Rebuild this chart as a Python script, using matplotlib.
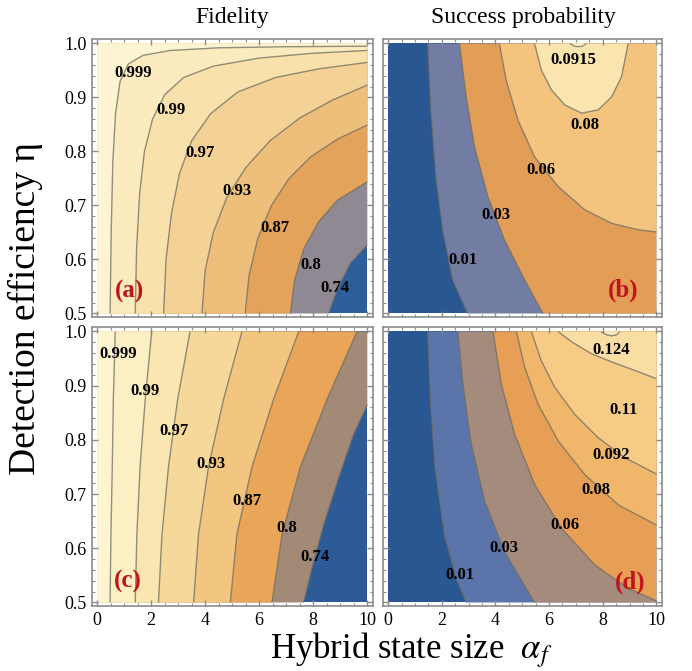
import math
import matplotlib
matplotlib.use('Agg')
import matplotlib.pyplot as plt
from matplotlib.patches import Polygon, Rectangle
from matplotlib.ticker import MultipleLocator

# ---------------- data ----------------
fid_levels = [0.74, 0.8, 0.87, 0.93, 0.97, 0.99, 0.999]
fid_labels = ['0.74', '0.8', '0.87', '0.93', '0.97', '0.99', '0.999']

# panel (a): contour lines of fidelity (alpha, eta)
a_alpha = [
    [8.57, 8.88, 9.37, 10.0],
    [7.15, 7.3, 7.65, 8.2, 8.9, 10.0],
    [5.48, 5.62, 5.95, 6.45, 7.1, 7.9, 8.9, 10.0],
    [3.88, 4.0, 4.3, 4.8, 5.5, 6.4, 7.5, 8.7, 10.0],
    [2.46, 2.55, 2.75, 3.05, 3.5, 4.2, 5.2, 6.6, 8.2, 10.0],
    [1.41, 1.46, 1.57, 1.75, 2.05, 2.5, 3.2, 4.3, 6.0, 8.0, 10.0],
    [0.48, 0.52, 0.58, 0.68, 0.85, 1.15, 1.7, 2.7, 4.5, 7.0, 10.0],
]
a_eta = [
    [0.5, 0.544, 0.593, 0.627],
    [0.5, 0.56, 0.62, 0.67, 0.71, 0.744],
    [0.5, 0.57, 0.64, 0.70, 0.75, 0.79, 0.823, 0.849],
    [0.5, 0.58, 0.65, 0.715, 0.77, 0.82, 0.862, 0.895, 0.923],
    [0.5, 0.6, 0.685, 0.76, 0.82, 0.87, 0.91, 0.937, 0.953, 0.965],
    [0.5, 0.62, 0.72, 0.8, 0.86, 0.905, 0.937, 0.958, 0.973, 0.982, 0.987],
    [0.5, 0.65, 0.78, 0.87, 0.93, 0.962, 0.978, 0.987, 0.992, 0.994, 0.995],
]
a_colors = ['#2D5E9C', '#8E8993', '#E4A35B', '#EEBE7B', '#F4D195',
            '#F8E1AB', '#FBEBBF', '#FDF4D2']
a_label_alpha = [8.81, 7.89, 6.57, 5.17, 3.79, 2.74, 1.32]
a_label_eta = [0.548, 0.590, 0.658, 0.726, 0.798, 0.877, 0.945]

# panel (c): contour lines of fidelity
c_alpha = [
    [7.64, 7.95, 8.38, 8.94, 9.49, 10.0],
    [6.47, 6.84, 7.52, 8.51, 9.62],
    [4.93, 5.17, 5.73, 6.53, 7.46],
    [3.57, 3.75, 4.12, 4.68, 5.36],
    [2.27, 2.40, 2.64, 2.98, 3.44],
    [1.41, 1.47, 1.59, 1.78, 2.02],
    [0.48, 0.51, 0.56, 0.60, 0.67],
]
c_eta = [
    [0.5, 0.563, 0.643, 0.73, 0.81, 0.865],
    [0.5, 0.625, 0.75, 0.875, 1.0],
    [0.5, 0.625, 0.75, 0.875, 1.0],
    [0.5, 0.625, 0.75, 0.875, 1.0],
    [0.5, 0.625, 0.75, 0.875, 1.0],
    [0.5, 0.625, 0.75, 0.875, 1.0],
    [0.5, 0.625, 0.75, 0.875, 1.0],
]
c_colors = ['#2C5B97', '#A38A76', '#E9A558', '#F2C581', '#F6D89A',
            '#FAE6B0', '#FCEFC4', '#FDF4D0']
c_label_alpha = [8.07, 7.02, 5.54, 4.21, 2.85, 1.78, 0.79]
c_label_eta = [0.583, 0.637, 0.687, 0.755, 0.817, 0.891, 0.958]

# panel (b): success probability
b_levels = [0.01, 0.03, 0.06, 0.08, 0.0915]
b_labels = ['0.01', '0.03', '0.06', '0.08', '0.0915']
b_alpha = [
    [1.48, 1.6, 1.79, 2.04, 2.41, 2.97],
    [2.66, 2.91, 3.22, 3.72, 4.34, 5.09, 5.77],
    [4.15, 4.40, 4.84, 5.46, 6.34, 7.33, 8.33, 9.33, 10.0],
    [5.46, 5.71, 6.09, 6.59, 7.21, 7.83, 8.33, 8.70, 8.95],
    [6.77, 6.95, 7.1, 7.25, 7.40],
]
b_eta = [
    [1.0, 0.873, 0.75, 0.654, 0.562, 0.5],
    [1.0, 0.901, 0.809, 0.716, 0.636, 0.562, 0.5],
    [1.0, 0.932, 0.858, 0.79, 0.735, 0.692, 0.667, 0.655, 0.651],
    [1.0, 0.951, 0.914, 0.886, 0.871, 0.877, 0.901, 0.938, 1.0],
    [1.0, 0.995, 0.994, 0.995, 1.0],
]
b_colors = ['#285791', '#737DA4', '#E29E57', '#F4C47F', '#FBE5AF', '#FDF0CC']
b_label_alpha = [2.79, 4.03, 5.68, 7.33, 6.90]
b_label_eta = [0.599, 0.682, 0.766, 0.849, 0.969]

# panel (d): success probability
d_levels = [0.01, 0.03, 0.06, 0.08, 0.092, 0.11, 0.124]
d_labels = ['0.01', '0.03', '0.06', '0.08', '0.092', '0.11', '0.124']
d_alpha = [
    [1.48, 1.58, 1.75, 2.10, 2.54, 2.91],
    [2.60, 2.79, 3.10, 3.60, 4.34, 5.46],
    [3.91, 4.22, 4.72, 5.46, 6.46, 7.71, 8.95, 10.0],
    [4.78, 5.09, 5.59, 6.34, 7.33, 8.58, 10.0],
    [5.34, 5.71, 6.21, 6.96, 7.83, 8.83, 10.0],
    [6.34, 6.84, 7.58, 8.33, 9.2, 10.0],
    [7.93, 8.14, 8.33, 8.52, 8.64],
]
d_eta = [
    [1.0, 0.872, 0.749, 0.625, 0.545, 0.5],
    [1.0, 0.903, 0.792, 0.687, 0.594, 0.5],
    [1.0, 0.903, 0.81, 0.718, 0.637, 0.569, 0.526, 0.503],
    [1.0, 0.934, 0.866, 0.798, 0.736, 0.68, 0.643],
    [1.0, 0.946, 0.897, 0.847, 0.804, 0.767, 0.737],
    [1.0, 0.981, 0.959, 0.944, 0.928, 0.913],
    [1.0, 0.994, 0.992, 0.994, 1.0],
]
d_colors = ['#285791', '#5B74A9', '#A48B7B', '#E79F56', '#F0B76B',
            '#F6CB86', '#FADDA3', '#FCE9BD']
d_label_alpha = [2.66, 4.32, 6.59, 7.73, 8.33, 8.77, 8.33]
d_label_eta = [0.551, 0.600, 0.643, 0.708, 0.773, 0.855, 0.965]

panel_tags = ['(a)', '(b)', '(c)', '(d)']
xticks = [0, 2, 4, 6, 8, 10]
yticks = [0.5, 0.6, 0.7, 0.8, 0.9, 1.0]

# ---------------- helpers ----------------
X0, X1, Y0, Y1 = 0.0, 10.0, 0.5, 1.0
CORNERS = {1: (X1, Y0), 2: (X1, Y1), 3: (X0, Y1), 0: (X0, Y0)}


def perim(x, y, tol=1e-6):
    if abs(y - Y0) < tol and x < X1 - tol:
        return (x - X0) / (X1 - X0)
    if abs(x - X1) < tol and y < Y1 - tol:
        return 1 + (y - Y0) / (Y1 - Y0)
    if abs(y - Y1) < tol and x > X0 + tol:
        return 2 + (X1 - x) / (X1 - X0)
    return 3 + (Y1 - y) / (Y1 - Y0)


def high_side(xs, ys):
    pts = list(zip(xs, ys))
    s_end = perim(xs[-1], ys[-1])
    s_start = perim(xs[0], ys[0])
    if s_start <= s_end:
        s_start += 4
    k = math.floor(s_end) + 1
    while k < s_start:
        pts.append(CORNERS[k % 4])
        k += 1
    return pts


serif = ['Liberation Serif', 'DejaVu Serif']
plt.rcParams['font.family'] = serif
plt.rcParams['mathtext.fontset'] = 'stix'

fig = plt.figure(figsize=(6.92, 6.71), dpi=100)

W = 692.0
H = 671.0
frames = [(92, 39, 373, 317), (383, 39, 662, 317),
          (92, 327, 373, 606), (383, 327, 662, 606)]

panels = [
    (a_alpha, a_eta, a_colors, fid_labels, a_label_alpha, a_label_eta),
    (b_alpha, b_eta, b_colors, b_labels, b_label_alpha, b_label_eta),
    (c_alpha, c_eta, c_colors, fid_labels, c_label_alpha, c_label_eta),
    (d_alpha, d_eta, d_colors, d_labels, d_label_alpha, d_label_eta),
]
tag_pos = [(1.2, 0.54), (8.77, 0.543), (1.12, 0.538), (9.01, 0.538)]

axes = []
for i, (l, t, r, b) in enumerate(frames):
    ax = fig.add_axes([l / W, 1 - b / H, (r - l) / W, (b - t) / H])
    axes.append(ax)
    curves_a, curves_e, cols, labs, lx, ly = panels[i]
    ax.add_patch(Rectangle((X0, Y0), X1 - X0, Y1 - Y0, fc=cols[0], ec='none', zorder=1))
    for j, (xs, ys) in enumerate(zip(curves_a, curves_e)):
        ax.add_patch(Polygon(high_side(xs, ys), closed=True, fc=cols[j + 1],
                             ec='none', zorder=1 + j * 0.01))
    for xs, ys in zip(curves_a, curves_e):
        ax.plot(xs, ys, color='#6f6e62', lw=1.0, alpha=0.75, zorder=3,
                solid_capstyle='butt', solid_joinstyle='round')
    for s, x, y in zip(labs, lx, ly):
        ax.text(x, y, s, ha='center', va='center', fontsize=12,
                fontweight='bold', color='black', zorder=5)
    tx, ty = tag_pos[i]
    ax.text(tx, ty, panel_tags[i], ha='center', va='center', fontsize=18,
            fontweight='bold', color='#C0141C', zorder=5)

    ax.set_xlim(-0.19, 10.21)
    ax.set_ylim(0.4935, 1.0083)
    ax.set_facecolor('white')
    for sp in ax.spines.values():
        sp.set_color('#8c8c8c')
        sp.set_linewidth(1.2)
    ax.xaxis.set_major_locator(MultipleLocator(2))
    ax.xaxis.set_minor_locator(MultipleLocator(0.5))
    ax.yaxis.set_major_locator(MultipleLocator(0.1))
    ax.yaxis.set_minor_locator(MultipleLocator(0.02))
    ax.tick_params(which='both', direction='in', top=True, right=True,
                   color='#8c8c8c', labelsize=13, pad=4)
    ax.tick_params(which='major', length=4.5, width=1.0)
    ax.tick_params(which='minor', length=2.5, width=0.8)
    ax.set_xticks(xticks)
    ax.set_yticks(yticks)
    ax.set_yticklabels(['0.5', '0.6', '0.7', '0.8', '0.9', '1.0'])
    if i in (0, 1):
        ax.tick_params(labelbottom=False)
    if i in (1, 3):
        ax.tick_params(labelleft=False)

fig.text(232 / W, 1 - 18 / H, 'Fidelity', ha='center', va='center', fontsize=17)
fig.text(523 / W, 1 - 18 / H, 'Success probability', ha='center', va='center', fontsize=17)
fig.text(25 / W, 1 - 309 / H, 'Detection efficiency η', rotation=90,
         ha='center', va='center', fontsize=27)
fig.text(411 / W, 1 - 650 / H, 'Hybrid state size  $\\alpha_{f}$', ha='center',
         va='center', fontsize=25)

fig.savefig('out.png', dpi=100)
